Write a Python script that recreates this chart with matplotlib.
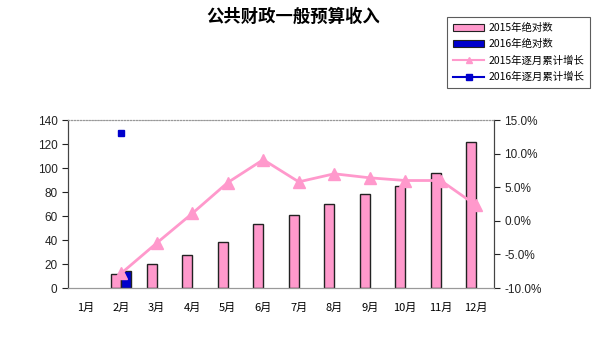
import numpy as np
import matplotlib.pyplot as plt
from matplotlib.patches import Patch
from matplotlib.lines import Line2D

plt.rcParams['font.family'] = ['Liberation Sans', 'Noto Sans CJK SC', 'DejaVu Sans']

# ---- data ----
months = ['1月', '2月', '3月', '4月', '5月', '6月', '7月', '8月', '9月', '10月', '11月', '12月']
abs_2015 = [np.nan, 12, 20, 27.5, 38, 53.5, 61, 70, 78, 85, 95.5, 121.5]
abs_2016 = [np.nan, 14, np.nan, np.nan, np.nan, np.nan, np.nan, np.nan, np.nan, np.nan, np.nan, np.nan]
growth_2015 = [np.nan, -7.8, -3.3, 1.1, 5.7, 9.1, 5.8, 7.0, 6.4, 6.0, 6.0, 2.3]
growth_2016 = [np.nan, 13.0, np.nan, np.nan, np.nan, np.nan, np.nan, np.nan, np.nan, np.nan, np.nan, np.nan]

PINK = '#ff99cc'
BLUE = '#0000cc'
EDGE = '#222222'

fig = plt.figure(figsize=(6.03, 3.53), dpi=100)
ax = fig.add_axes([0.1128, 0.184, 0.7064, 0.476])
ax2 = ax.twinx()

x = np.arange(len(months))
w = 0.28
ax.bar(x - w / 2, abs_2015, w, color=PINK, edgecolor=EDGE, linewidth=1.0, zorder=2)
ax.bar(x + w / 2, abs_2016, w, color=BLUE, edgecolor=EDGE, linewidth=1.0, zorder=2)

ax2.plot(x, growth_2015, color=PINK, linewidth=2, marker='^', markersize=8, zorder=3)
ax2.plot(x, growth_2016, color=BLUE, linewidth=2, marker='s', markersize=5, zorder=3)

ax.set_xlim(-0.5, len(months) - 0.5)
ax.set_ylim(0, 140)
ax.set_yticks(range(0, 141, 20))
ax2.set_ylim(-10, 15)
ax2.set_yticks(range(-10, 16, 5))
ax2.set_yticklabels([f'{v:.1f}%' for v in range(-10, 16, 5)])
ax.set_xticks(x)
ax.set_xticklabels(months, fontfamily=['Noto Sans CJK SC'], fontsize=8)

for a in (ax, ax2):
    a.tick_params(axis='y', labelsize=8.5, length=4, width=0.8, colors='#222222')
    a.spines['top'].set_linestyle(':')
    a.spines['top'].set_color('#999999')
    a.spines['bottom'].set_color('#999999')
    a.spines['left'].set_color('#444444')
    a.spines['right'].set_color('#444444')
ax.tick_params(axis='x', length=0, pad=11)
ax2.patch.set_visible(False)

fig.text(0.486, 0.953, '公共财政一般预算收入', ha='center', va='center',
         fontsize=12.5, fontweight='bold', fontfamily=['Noto Sans CJK SC'])

handles = [
    Patch(facecolor=PINK, edgecolor=EDGE, linewidth=0.8),
    Patch(facecolor=BLUE, edgecolor=EDGE, linewidth=0.8),
    Line2D([], [], color=PINK, linewidth=1.5, marker='^', markersize=5),
    Line2D([], [], color=BLUE, linewidth=1.5, marker='s', markersize=4),
]
labels = ['2015年绝对数', '2016年绝对数', '2015年逐月累计增长', '2016年逐月累计增长']
leg = fig.legend(handles, labels, loc='upper left', bbox_to_anchor=(0.733, 0.966),
                 prop={'family': ['Noto Sans CJK SC'], 'size': 7.5}, frameon=True,
                 fancybox=False, borderpad=0.55, labelspacing=0.6, handlelength=3.0,
                 handletextpad=0.4)
leg.get_frame().set_edgecolor('#333333')
leg.get_frame().set_linewidth(0.8)

fig.savefig('out.png', dpi=100)
